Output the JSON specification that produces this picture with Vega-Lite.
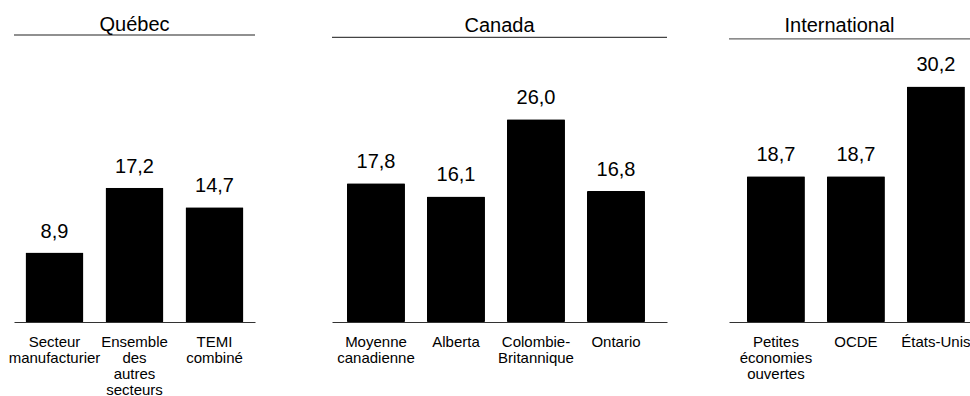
{
  "$schema": "https://vega.github.io/schema/vega-lite/v6.json",
  "background": "white",
  "padding": {"left": 8, "top": 15, "right": 0, "bottom": 0},
  "config": {
    "view": {"stroke": null},
    "font": "Liberation Sans",
    "locale": {"number": {"decimal": ",", "thousands": " ", "grouping": [3], "currency": ["", " $"]}},
    "title": {"fontSize": 20, "fontWeight": "normal", "color": "black", "offset": -1, "anchor": "middle", "font": "Liberation Sans"},
    "axisX": {
      "title": null, "ticks": false, "labelAngle": 0, "labelFontSize": 15, "labelLineHeight": 16,
      "labelPadding": 12, "labelColor": "black", "labelLimit": 300, "domainColor": "#333333", "domainWidth": 1,
      "labelExpr": "split(replace(datum.label, 'Colombie-', 'Colombie- '), ' ')"
    }
  },
  "datasets": {
    "quebec": [
      {"categorie": "Secteur manufacturier", "valeur": 8.9},
      {"categorie": "Ensemble des autres secteurs", "valeur": 17.2},
      {"categorie": "TEMI combiné", "valeur": 14.7}
    ],
    "canada": [
      {"categorie": "Moyenne canadienne", "valeur": 17.8},
      {"categorie": "Alberta", "valeur": 16.1},
      {"categorie": "Colombie-Britannique", "valeur": 26.0},
      {"categorie": "Ontario", "valeur": 16.8}
    ],
    "international": [
      {"categorie": "Petites économies ouvertes", "valeur": 18.7},
      {"categorie": "OCDE", "valeur": 18.7},
      {"categorie": "États-Unis", "valeur": 30.2}
    ]
  },
  "spacing": 75,
  "hconcat": [
    {
      "title": "Québec",
      "width": 241,
      "height": 287,
      "layer": [
        {
          "data": {"name": "quebec"},
          "mark": {"type": "bar", "color": "black", "cornerRadius": 1},
          "encoding": {
            "x": {"field": "categorie", "type": "nominal", "sort": null, "scale": {"paddingInner": 0.275, "paddingOuter": 0.14375, "align": 0.5}},
            "y": {"field": "valeur", "type": "quantitative", "scale": {"domain": [0, 36.8], "nice": false}, "axis": null}
          }
        },
        {
          "data": {"name": "quebec"},
          "mark": {"type": "text", "baseline": "alphabetic", "dy": -15, "fontSize": 20, "color": "black"},
          "encoding": {
            "x": {"field": "categorie", "type": "nominal", "sort": null},
            "y": {"field": "valeur", "type": "quantitative"},
            "text": {"field": "valeur", "type": "quantitative", "format": ".1f"}
          }
        },
        {
          "data": {"values": [{}]},
          "mark": {"type": "rule", "color": "#222222", "strokeWidth": 1.2},
          "encoding": {"y": {"datum": 36.8}}
        }
      ]
    },
    {
      "spacing": 60,
      "hconcat": [
        {
          "title": "Canada",
          "width": 335,
          "height": 287,
          "layer": [
            {
              "data": {"name": "canada"},
              "mark": {"type": "bar", "color": "black", "cornerRadius": 1},
              "encoding": {
                "x": {"field": "categorie", "type": "nominal", "sort": null, "scale": {"paddingInner": 0.275, "paddingOuter": 0.23125, "align": 0.405}},
                "y": {"field": "valeur", "type": "quantitative", "scale": {"domain": [0, 36.8], "nice": false}, "axis": null}
              }
            },
            {
              "data": {"name": "canada"},
              "mark": {"type": "text", "baseline": "alphabetic", "dy": -15, "fontSize": 20, "color": "black"},
              "encoding": {
                "x": {"field": "categorie", "type": "nominal", "sort": null},
                "y": {"field": "valeur", "type": "quantitative"},
                "text": {"field": "valeur", "type": "quantitative", "format": ".1f"}
              }
            },
            {
              "data": {"values": [{}]},
              "mark": {"type": "rule", "color": "#444444", "strokeWidth": 1.2},
              "encoding": {"y": {"datum": 36.5}}
            }
          ]
        },
        {
          "title": {"text": "International", "dx": -10},
          "width": 241,
          "height": 287,
          "layer": [
            {
              "data": {"name": "international"},
              "mark": {"type": "bar", "color": "black", "cornerRadius": 1},
              "encoding": {
                "x": {"field": "categorie", "type": "nominal", "sort": null, "scale": {"paddingInner": 0.275, "paddingOuter": 0.14375, "align": 0.78}},
                "y": {"field": "valeur", "type": "quantitative", "scale": {"domain": [0, 36.8], "nice": false}, "axis": null}
              }
            },
            {
              "data": {"name": "international"},
              "mark": {"type": "text", "baseline": "alphabetic", "dy": -15, "fontSize": 20, "color": "black"},
              "encoding": {
                "x": {"field": "categorie", "type": "nominal", "sort": null},
                "y": {"field": "valeur", "type": "quantitative"},
                "text": {"field": "valeur", "type": "quantitative", "format": ".1f"}
              }
            },
            {
              "data": {"values": [{}]},
              "mark": {"type": "rule", "color": "#666666", "strokeWidth": 1.2},
              "encoding": {"y": {"datum": 36.3}}
            }
          ]
        }
      ]
    }
  ]
}
